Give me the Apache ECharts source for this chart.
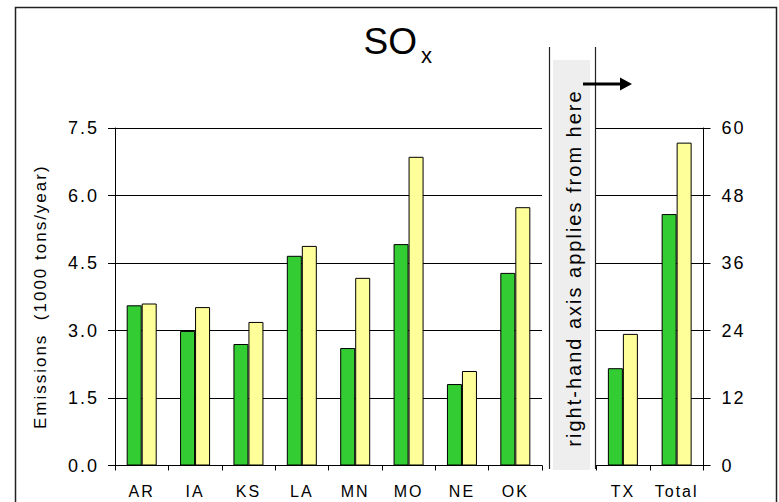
<!DOCTYPE html>
<html>
<head>
<meta charset="utf-8">
<script src="https://cdn.jsdelivr.net/npm/echarts@6/dist/echarts.min.js"></script>
<style>
html,body{margin:0;padding:0;background:#fff;}
#main{width:779px;height:502px;}
#main svg text{letter-spacing:2px;}
</style>
</head>
<body>
<div id="main"></div>
<script>
// ---- data ----
const titleMain = 'SO';
const titleSub = 'x';
const yAxisName = 'Emissions  (1000 tons/year)';
const bandNote = 'right-hand axis applies from here';
const leftCategories = ['AR', 'IA', 'KS', 'LA', 'MN', 'MO', 'NE', 'OK'];
const rightCategories = ['TX', 'Total'];
const greenLeft  = [3.56, 2.99, 2.70, 4.66, 2.61, 4.92, 1.81, 4.28];
const yellowLeft = [3.60, 3.52, 3.19, 4.88, 4.17, 6.86, 2.10, 5.74];
const greenRight  = [17.3, 44.7];
const yellowRight = [23.4, 57.4];
const leftAxisMin = 0, leftAxisMax = 7.5, leftAxisStep = 1.5;
const rightAxisMin = 0, rightAxisMax = 60, rightAxisStep = 12;

const FONT = '"Liberation Sans", Arial, Helvetica, sans-serif';
const GREEN = '#33cc33';
const YELLOW = '#ffff99';

const chart = echarts.init(document.getElementById('main'), null, {renderer: 'svg'});

const axisLineStyle = {lineStyle: {color: '#000', width: 1}};
const barCommon = {
  barWidth: 15,
  barGap: '0%',
  itemStyle: {borderColor: '#000', borderWidth: 1},
  silent: true,
  animation: false
};

const option = {
  backgroundColor: '#fff',
  animation: false,
  title: {
    text: titleMain,
    left: 363.5,
    top: 23,
    padding: 0,
    textStyle: {fontSize: 37, fontWeight: 'normal', fontFamily: FONT, color: '#000', lineHeight: 37}
  },
  grid: [
    {left: 115, top: 128, width: 427, height: 337.5},
    {left: 596, top: 128, width: 107.5, height: 337.5}
  ],
  xAxis: [
    {
      type: 'category', gridIndex: 0, data: leftCategories,
      axisLine: axisLineStyle,
      axisTick: {show: true, length: 5, lineStyle: {color: '#000'}},
      axisLabel: {color: '#000', fontSize: 16, fontFamily: FONT, margin: 18, interval: 0}
    },
    {
      type: 'category', gridIndex: 1, data: rightCategories,
      axisLine: axisLineStyle,
      axisTick: {show: true, length: 5, lineStyle: {color: '#000'}},
      axisLabel: {color: '#000', fontSize: 16, fontFamily: FONT, margin: 18, interval: 0}
    }
  ],
  yAxis: [
    {
      type: 'value', gridIndex: 0, position: 'left',
      min: leftAxisMin, max: leftAxisMax, interval: leftAxisStep,
      name: yAxisName, nameLocation: 'middle', nameGap: 66,
      nameTextStyle: {color: '#000', fontSize: 17, fontFamily: FONT},
      axisLine: {show: true, lineStyle: {color: '#000', width: 1}},
      axisTick: {show: true, length: 7, lineStyle: {color: '#000'}},
      splitLine: {show: true, lineStyle: {color: '#000', width: 1}},
      axisLabel: {color: '#000', fontSize: 18, fontFamily: FONT, margin: 16,
        formatter: v => v.toFixed(1)}
    },
    {
      type: 'value', gridIndex: 1, position: 'right',
      min: rightAxisMin, max: rightAxisMax, interval: rightAxisStep,
      axisLine: {show: true, lineStyle: {color: '#000', width: 1}},
      axisTick: {show: true, length: 7, lineStyle: {color: '#000'}},
      splitLine: {show: true, lineStyle: {color: '#000', width: 1}},
      axisLabel: {color: '#000', fontSize: 18, fontFamily: FONT, margin: 18}
    }
  ],
  series: [
    Object.assign({type: 'bar', name: 'green', xAxisIndex: 0, yAxisIndex: 0, data: greenLeft, color: GREEN}, barCommon),
    Object.assign({type: 'bar', name: 'yellow', xAxisIndex: 0, yAxisIndex: 0, data: yellowLeft, color: YELLOW}, barCommon),
    Object.assign({type: 'bar', name: 'green', xAxisIndex: 1, yAxisIndex: 1, data: greenRight, color: GREEN}, barCommon),
    Object.assign({type: 'bar', name: 'yellow', xAxisIndex: 1, yAxisIndex: 1, data: yellowRight, color: YELLOW}, barCommon)
  ],
  graphic: [
    {type: 'rect', silent: true, z: -10,
      shape: {x: 15.5, y: 7.5, width: 761, height: 560},
      style: {fill: 'none', stroke: '#222', lineWidth: 1.5}},
    {type: 'rect', silent: true, z: -5,
      shape: {x: 553, y: 60, width: 37, height: 410},
      style: {fill: '#eeeeee'}},
    {type: 'line', silent: true,
      shape: {x1: 549.5, y1: 47, x2: 549.5, y2: 469},
      style: {stroke: '#222', lineWidth: 1.2}},
    {type: 'line', silent: true,
      shape: {x1: 595.5, y1: 47, x2: 595.5, y2: 469},
      style: {stroke: '#222', lineWidth: 1.2}},
    {type: 'line', silent: true,
      shape: {x1: 583, y1: 84, x2: 621, y2: 84},
      style: {stroke: '#000', lineWidth: 3}},
    {type: 'polygon', silent: true,
      shape: {points: [[620, 77.5], [632, 84], [620, 90.5]]},
      style: {fill: '#000'}},
    {type: 'text', silent: true, x: 421, y: 55,
      style: {text: titleSub, fontSize: 22, fontFamily: FONT, fill: '#000',
        align: 'left', verticalAlign: 'middle'}},
    {type: 'text', silent: true, x: 574, y: 268, rotation: Math.PI / 2,
      style: {text: bandNote, fontSize: 20, fontFamily: FONT, fill: '#000',
        align: 'center', verticalAlign: 'middle'}}
  ]
};
chart.setOption(option);
// title has no extra letter spacing
document.querySelectorAll('#main svg text').forEach(t => {
  if (parseFloat(getComputedStyle(t).fontSize) >= 30) t.style.letterSpacing = '0px';
});
</script>
</body>
</html>
